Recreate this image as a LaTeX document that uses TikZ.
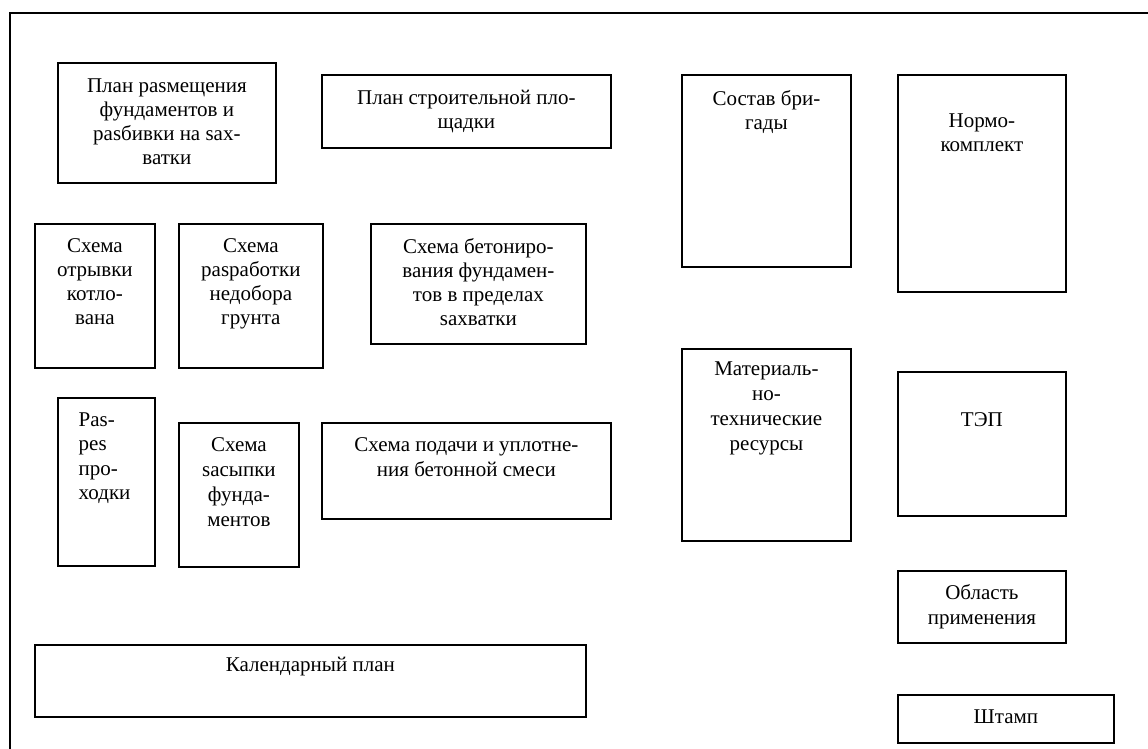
\documentclass[tikz,border=0pt]{standalone}
\usepackage{fontspec}
\setmainfont{Liberation Serif}
\begin{document}
\begin{tikzpicture}[x=1pt,y=-1pt,
  box/.style={draw=black, line width=1.8pt, fill=white, inner sep=0pt, anchor=north west},
  lbl/.style={inner sep=0pt, align=center, anchor=north, font=\fontsize{21}{24}\selectfont, execute at begin node={\strut}},
  lbll/.style={inner sep=0pt, align=left, anchor=north west, font=\fontsize{21}{24.5}\selectfont, execute at begin node={\strut}}]
\useasboundingbox (0,0) rectangle (1148,749);
\fill[white] (0,0) rectangle (1148,749);
% outer frame
\coordinate (fbl) at (9.5,749);
\coordinate (ftl) at (9.5,13.5);
\coordinate (ftr) at (1148,13.5);
\draw[line width=2pt] (fbl) -- (ftl) -- (ftr);
% boxes
\node[box, minimum width=218pt, minimum height=120pt] (b1) at (57,62) {};
\node[box, minimum width=289pt, minimum height=73pt] (b2) at (321,74) {};
\node[box, minimum width=120pt, minimum height=144pt] (b3) at (34,223) {};
\node[box, minimum width=144pt, minimum height=144pt] (b4) at (178,223) {};
\node[box, minimum width=215pt, minimum height=120pt] (b5) at (370,223) {};
\node[box, minimum width=169pt, minimum height=192pt] (b6) at (681,74) {};
\node[box, minimum width=168pt, minimum height=217pt] (b7) at (897,74) {};
\node[box, minimum width=169pt, minimum height=192pt] (b8) at (681,348) {};
\node[box, minimum width=168pt, minimum height=144pt] (b9) at (897,371) {};
\node[box, minimum width=97pt, minimum height=168pt] (b10) at (57,397) {};
\node[box, minimum width=120pt, minimum height=144pt] (b11) at (178,422) {};
\node[box, minimum width=289pt, minimum height=96pt] (b12) at (321,422) {};
\node[box, minimum width=551pt, minimum height=72pt] (b13) at (34,644) {};
\node[box, minimum width=168pt, minimum height=72pt] (b14) at (897,570) {};
\node[box, minimum width=216pt, minimum height=48pt] (b15) at (897,694) {};
% labels
\node[lbl] (t1) at ([yshift=-16.5pt]b1.north) {План раsмещения\\фундаментов и\\раsбивки на sах-\\ватки};
\node[lbl] (t2) at ([yshift=-16pt]b2.north) {План строительной пло-\\щадки};
\node[lbl] (t3) at ([yshift=-15.5pt]b3.north) {Схема\\отрывки\\котло-\\вана};
\node[lbl] (t4) at ([yshift=-15.5pt]b4.north) {Схема\\раsработки\\недобора\\грунта};
\node[lbl] (t5) at ([yshift=-15.5pt]b5.north) {Схема бетониро-\\вания фундамен-\\тов в пределах\\sахватки};
\node[lbl] (t6) at ([yshift=-16pt]b6.north) {Состав бри-\\гады};
\node[lbl] (t7) at ([yshift=-39.5pt]b7.north) {Нормо-\\комплект};
\node[lbl, font=\fontsize{21}{25}\selectfont] (t8) at ([yshift=-14pt]b8.north) {Материаль-\\но-\\технические\\ресурсы};
\node[lbl] (t9) at ([yshift=-38pt]b9.north) {ТЭП};
\node[lbll] (t10) at ([xshift=21.5pt,yshift=-15.5pt]b10.north west) {Раs-\\реs\\про-\\ходки};
\node[lbl, font=\fontsize{21}{25}\selectfont] (t11) at ([yshift=-15pt]b11.north) {Схема\\sасыпки\\фунда-\\ментов};
\node[lbl, font=\fontsize{21}{25}\selectfont] (t12) at ([yshift=-15pt]b12.north) {Схема подачи и уплотне-\\ния бетонной смеси};
\node[lbl] (t13) at ([yshift=-10.5pt]b13.north) {Календарный план};
\node[lbl, font=\fontsize{21}{25.5}\selectfont] (t14) at ([yshift=-14pt]b14.north) {Область\\применения};
\node[lbl] (t15) at ([yshift=-12.5pt]b15.north) {Штамп};
\end{tikzpicture}
\end{document}
